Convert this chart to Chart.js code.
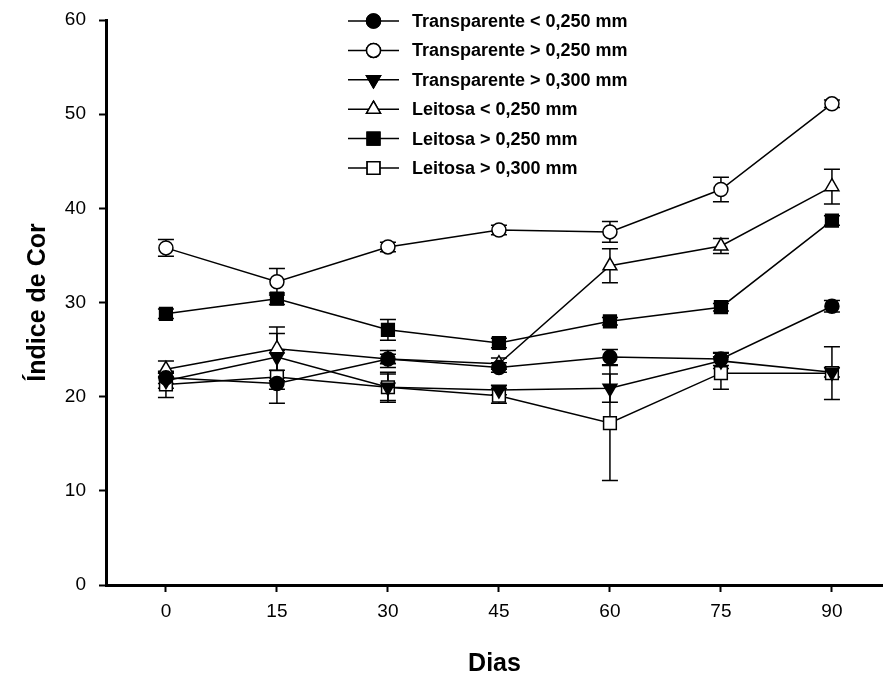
<!DOCTYPE html>
<html>
<head>
<meta charset="utf-8">
<script src="https://cdn.jsdelivr.net/npm/chart.js@4/dist/chart.umd.min.js"></script>
<style>
  html, body { margin: 0; padding: 0; background: #fff; }
  canvas { display: block; }
</style>
</head>
<body>
<canvas id="chart" width="883" height="679"></canvas>
<script>
// days of storage
const days = [0, 15, 30, 45, 60, 75, 90];
const yTicks = [0, 10, 20, 30, 40, 50, 60];

const seriesLabels = [
  'Transparente < 0,250 mm',
  'Transparente > 0,250 mm',
  'Transparente > 0,300 mm',
  'Leitosa < 0,250 mm',
  'Leitosa > 0,250 mm',
  'Leitosa > 0,300 mm'
];

// mean values
const transLt250 = [22.0, 21.4, 24.0, 23.1, 24.2, 24.0, 29.6];
const transGt250 = [35.8, 32.2, 35.9, 37.7, 37.5, 42.0, 51.1];
const transGt300 = [21.7, 24.2, 21.0, 20.7, 20.9, 23.8, 22.6];
const leitLt250 = [22.9, 25.1, 24.0, 23.5, 33.9, 36.0, 42.3];
const leitGt250 = [28.8, 30.4, 27.1, 25.7, 28.0, 29.5, 38.7];
const leitGt300 = [21.3, 22.1, 21.0, 20.1, 17.2, 22.5, 22.5];

// error bar half lengths
const transLt250Err = [0.6, 0.6, 0.5, 0.5, 0.8, 0.7, 0.6];
const transGt250Err = [0.9, 1.4, 0.5, 0.5, 1.1, 1.3, 0.4];
const transGt300Err = [0.8, 2.5, 1.4, 0.5, 1.5, 0.8, 0.5];
const leitLt250Err = [0.9, 2.3, 0.9, 0.6, 1.8, 0.8, 1.85];
const leitGt250Err = [0.5, 0.6, 1.1, 0.5, 0.4, 0.4, 0.5];
const leitGt300Err = [1.4, 2.8, 1.6, 0.8, 6.1, 1.7, 2.8];

const FONT = 'Arial, "Liberation Sans", Helvetica, sans-serif';

function makeSet(label, values, errs, style, fill, radius, rotation) {
  return {
    label: label,
    data: days.map((d, i) => ({ x: d, y: values[i], err: errs[i] })),
    borderColor: '#000',
    borderWidth: 1.5,
    pointStyle: style,
    pointRadius: radius,
    pointRotation: rotation || 0,
    pointBackgroundColor: fill,
    pointBorderColor: '#000',
    pointBorderWidth: 1.5,
    fill: false,
    tension: 0
  };
}

const datasets = [
  makeSet(seriesLabels[0], transLt250, transLt250Err, 'circle', '#000', 7),
  makeSet(seriesLabels[1], transGt250, transGt250Err, 'circle', '#fff', 7),
  makeSet(seriesLabels[2], transGt300, transGt300Err, 'triangle', '#000', 8, 180),
  makeSet(seriesLabels[3], leitLt250, leitLt250Err, 'triangle', '#fff', 8),
  makeSet(seriesLabels[4], leitGt250, leitGt250Err, 'rect', '#000', 9),
  makeSet(seriesLabels[5], leitGt300, leitGt300Err, 'rect', '#fff', 9)
];

// vertical error bars with caps, drawn under the markers
const errorBars = {
  id: 'errorBars',
  beforeDatasetsDraw(chart) {
    const { ctx, scales: { x, y } } = chart;
    ctx.save();
    ctx.strokeStyle = '#000';
    ctx.lineWidth = 1.5;
    chart.data.datasets.forEach(ds => {
      ds.data.forEach(p => {
        const px = x.getPixelForValue(p.x);
        const top = y.getPixelForValue(p.y + p.err);
        const bot = y.getPixelForValue(p.y - p.err);
        ctx.beginPath();
        ctx.moveTo(px, top); ctx.lineTo(px, bot);
        ctx.moveTo(px - 8, top); ctx.lineTo(px + 8, top);
        ctx.moveTo(px - 8, bot); ctx.lineTo(px + 8, bot);
        ctx.stroke();
      });
    });
    ctx.restore();
  }
};

// legend with a line through each marker
const lineLegend = {
  id: 'lineLegend',
  afterDraw(chart) {
    const { ctx } = chart;
    const x0 = 348, x1 = 399, top = 21, step = 29.4;
    ctx.save();
    chart.data.datasets.forEach((ds, i) => {
      const yy = top + i * step;
      ctx.strokeStyle = '#000';
      ctx.lineWidth = 1.5;
      ctx.beginPath();
      ctx.moveTo(x0, yy); ctx.lineTo(x1, yy);
      ctx.stroke();
      Chart.helpers.drawPoint(ctx, {
        pointStyle: ds.pointStyle,
        rotation: ds.pointRotation,
        radius: ds.pointRadius,
        borderWidth: ds.pointBorderWidth
      }, (x0 + x1) / 2, yy);
      ctx.fillStyle = ds.pointBackgroundColor;
      ctx.fill();
      ctx.stroke();
      ctx.fillStyle = '#000';
      ctx.font = 'bold 18px ' + FONT;
      ctx.textBaseline = 'middle';
      ctx.textAlign = 'left';
      ctx.fillText(ds.label, 412, yy + 1);
    });
    ctx.restore();
  }
};

new Chart(document.getElementById('chart'), {
  type: 'line',
  data: { datasets: datasets },
  plugins: [errorBars, lineLegend],
  options: {
    responsive: false,
    animation: false,
    devicePixelRatio: 1,
    layout: { autoPadding: false, padding: { top: 20, right: 0, bottom: 0, left: 0 } },
    plugins: { legend: { display: false }, tooltip: { enabled: false } },
    scales: {
      x: {
        type: 'linear',
        min: -8.1,
        max: 96.9,
        afterBuildTicks: s => { s.ticks = days.map(v => ({ value: v })); },
        afterFit: s => { s.height = 94; s.paddingLeft = 0; s.paddingRight = 0; },
        border: { display: true, color: '#000', width: 3 },
        grid: { drawOnChartArea: false, drawTicks: true, tickLength: 7, tickWidth: 2, color: '#000' },
        ticks: { color: '#000', padding: 8, font: { family: FONT, size: 19 }, maxRotation: 0 },
        title: { display: true, text: 'Dias', color: '#000', padding: { bottom: 0 }, font: { family: FONT, size: 25, weight: 'bold' } }
      },
      y: {
        type: 'linear',
        min: 0,
        max: 60,
        afterBuildTicks: s => { s.ticks = yTicks.map(v => ({ value: v })); },
        afterFit: s => { s.width = 106; s.paddingTop = 0; s.paddingBottom = 0; },
        border: { display: true, color: '#000', width: 3 },
        grid: { drawOnChartArea: false, drawTicks: true, tickLength: 7, tickWidth: 2, color: '#000' },
        ticks: { color: '#000', padding: 13, font: { family: FONT, size: 19 } },
        title: { display: true, text: 'Índice de Cor', color: '#000', padding: { top: 23 }, font: { family: FONT, size: 25, weight: 'bold' } }
      }
    }
  }
});
</script>
</body>
</html>
